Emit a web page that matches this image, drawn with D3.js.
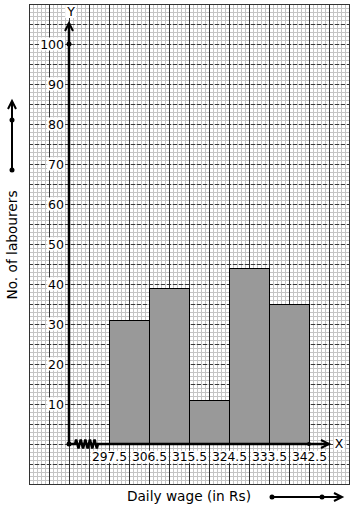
<!DOCTYPE html>
<html>
<head>
<meta charset="utf-8">
<script src="https://cdn.jsdelivr.net/npm/d3@7"></script>
<style>
  html, body { margin: 0; padding: 0; background: #fff; }
  svg { display: block; }
  text { font-family: "DejaVu Sans", sans-serif; }
</style>
</head>
<body>
<script>
// ---- data ----
const classBoundaries = [297.5, 306.5, 315.5, 324.5, 333.5, 342.5];
const labourers = [31, 39, 11, 44, 35];
const yTicks = [10, 20, 30, 40, 50, 60, 70, 80, 90, 100];
const xAxisTitle = "Daily wage (in Rs)";
const yAxisTitle = "No. of labourers";

const W = 354, H = 510;
const svg = d3.select("body").append("svg").attr("width", W).attr("height", H);

// graph paper
const paper = { x0: 29, x1: 349, y0: 4, y1: 484, minor: 4, major: 20 };
const g = svg.append("g");
for (let x = paper.x0; x <= paper.x1; x += paper.minor) {
  g.append("line").attr("x1", x + 0.5).attr("x2", x + 0.5).attr("y1", paper.y0).attr("y2", paper.y1)
    .attr("stroke", "#c4c4c4").attr("stroke-width", 1);
}
for (let y = paper.y0; y <= paper.y1; y += paper.minor) {
  g.append("line").attr("y1", y + 0.5).attr("y2", y + 0.5).attr("x1", paper.x0).attr("x2", paper.x1)
    .attr("stroke", "#c4c4c4").attr("stroke-width", 1);
}
for (let y = paper.y0 + paper.major; y < paper.y1; y += paper.major) {
  g.append("line").attr("y1", y + 0.5).attr("y2", y + 0.5).attr("x1", paper.x0).attr("x2", paper.x1)
    .attr("stroke", "#3a3a3a").attr("stroke-width", 1).attr("stroke-dasharray", "4,2");
}
for (let x = paper.x0; x <= paper.x1; x += paper.major) {
  g.append("line").attr("x1", x + 0.5).attr("x2", x + 0.5).attr("y1", paper.y0).attr("y2", paper.y1)
    .attr("stroke", "#333").attr("stroke-width", 1);
}
g.append("rect").attr("x", paper.x0 + 0.5).attr("y", paper.y0 + 0.5)
  .attr("width", paper.x1 - paper.x0).attr("height", paper.y1 - paper.y0)
  .attr("fill", "none").attr("stroke", "#333");

// scales
const originX = 69, originY = 444;
const x = d3.scaleLinear().domain([297.5, 342.5]).range([109, 309]);
const y = d3.scaleLinear().domain([0, 100]).range([originY, 44]);

// bars
const bins = labourers.map((v, i) => ({ lo: classBoundaries[i], hi: classBoundaries[i + 1], v }));
svg.append("g").selectAll("rect").data(bins).join("rect")
  .attr("x", d => x(d.lo) + 0.5)
  .attr("y", d => y(d.v) + 0.5)
  .attr("width", d => x(d.hi) - x(d.lo))
  .attr("height", d => y(0) - y(d.v))
  .attr("fill", "#999")
  .attr("stroke", "#000")
  .attr("stroke-width", 1);

function addBg(sel) {
  sel.each(function () {
    const b = this.getBBox();
    d3.select(this.parentNode).insert("rect", () => this)
      .attr("x", b.x - 1).attr("y", b.y + 1).attr("width", b.width + 2).attr("height", b.height - 2)
      .attr("fill", "#fff");
  });
}

// y axis ticks
const yAx = svg.append("g").attr("transform", `translate(${originX},0)`)
  .call(d3.axisLeft(y).tickValues(yTicks).tickSize(0).tickPadding(5));
yAx.select(".domain").remove();
yAx.selectAll("text").attr("font-size", 12.5).attr("font-family", "DejaVu Sans").attr("fill", "#000");
addBg(yAx.selectAll("text"));

// x axis ticks
const xAx = svg.append("g").attr("transform", `translate(0,${originY})`)
  .call(d3.axisBottom(x).tickValues(classBoundaries).tickSize(0).tickPadding(8).tickFormat(d3.format(".1f")));
xAx.select(".domain").remove();
xAx.selectAll("text").attr("font-size", 12.3).attr("font-family", "DejaVu Sans").attr("fill", "#000");
addBg(xAx.selectAll("text"));

// axes lines
const axisG = svg.append("g").attr("stroke", "#000").attr("fill", "none").attr("stroke-width", 2.5);
axisG.append("line").attr("x1", originX).attr("x2", originX).attr("y1", originY).attr("y2", 23);
axisG.append("path").attr("d", `M${originX - 4},31 L${originX},23 L${originX + 4},31`).attr("stroke-width", 2);
// x axis with zigzag
let zz = `M${originX},${originY} L75,${originY}`;
const zStart = 75, zEnd = 98, nz = 5;
for (let i = 0; i < nz; i++) {
  const a = zStart + (zEnd - zStart) * i / nz;
  const step = (zEnd - zStart) / nz;
  zz += ` L${a + step * 0.25},${originY - 4.5} L${a + step * 0.75},${originY + 4.5}`;
}
zz += ` L${zEnd},${originY} L330,${originY}`;
axisG.append("path").attr("d", zz).attr("stroke-linejoin", "miter");
axisG.append("path").attr("d", `M321,${originY - 4} L329,${originY} L321,${originY + 4}`).attr("stroke-width", 2);

// dots
svg.append("circle").attr("cx", originX).attr("cy", originY).attr("r", 2.5).attr("fill", "#000");
svg.append("circle").attr("cx", originX).attr("cy", y(100)).attr("r", 2.5).attr("fill", "#000");
svg.append("circle").attr("cx", x(342.5)).attr("cy", originY).attr("r", 2).attr("fill", "#000");

// axis letters
const yl = svg.append("text").attr("x", 71).attr("y", 16).attr("text-anchor", "middle").attr("font-size", 12.5).text("Y");
addBg(yl);
const xl = svg.append("text").attr("x", 339).attr("y", 448).attr("text-anchor", "middle").attr("font-size", 12.5).text("X");
addBg(xl);

// titles
svg.append("text").attr("transform", "translate(17,245) rotate(-90)").attr("text-anchor", "middle")
  .attr("font-size", 13.7).attr("fill", "#000").text(yAxisTitle);
svg.append("text").attr("x", 189).attr("y", 501).attr("text-anchor", "middle")
  .attr("font-size", 13.7).attr("fill", "#000").text(xAxisTitle);

// direction arrows
const dir = svg.append("g").attr("stroke", "#000").attr("fill", "none").attr("stroke-width", 2);
dir.append("line").attr("x1", 12).attr("x2", 12).attr("y1", 170).attr("y2", 101);
dir.append("path").attr("d", "M8,109 L12,101 L16,109");
svg.append("circle").attr("cx", 12).attr("cy", 170).attr("r", 2.5);
svg.append("circle").attr("cx", 12).attr("cy", 120).attr("r", 2.5);
dir.append("line").attr("x1", 272).attr("x2", 342).attr("y1", 497).attr("y2", 497);
dir.append("path").attr("d", "M334,493 L342,497 L334,501");
svg.append("circle").attr("cx", 272).attr("cy", 497).attr("r", 2.5);
svg.append("circle").attr("cx", 322).attr("cy", 497).attr("r", 2.5);
</script>
</body>
</html>
